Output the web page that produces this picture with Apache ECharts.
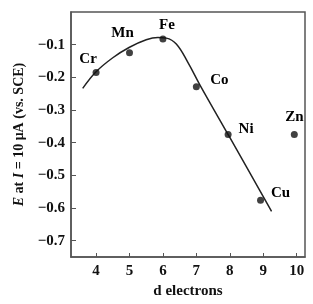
<!DOCTYPE html>
<html>
<head>
<meta charset="utf-8">
<script src="https://cdn.jsdelivr.net/npm/echarts@6/dist/echarts.min.js"></script>
<style>
  html, body { margin: 0; padding: 0; background: #fff; }
  #chart { width: 313px; height: 304px; }
</style>
</head>
<body>
<div id="chart"></div>
<script>
// measured points (d electrons vs potential)
const elements = ['Cr', 'Mn', 'Fe', 'Co', 'Ni', 'Cu', 'Zn'];
const dElectrons = [4, 5, 6, 7, 7.95, 8.92, 9.93];
const potentials = [-0.185, -0.125, -0.083, -0.229, -0.375, -0.576, -0.375];

// hand-drawn trend curve
const curveX = [3.6, 4.0, 4.5, 5.0, 5.5, 5.85, 6.1, 6.4, 6.75, 7.1, 8.0, 9.25];
const curveY = [-0.234, -0.183, -0.14, -0.108, -0.085, -0.078, -0.08, -0.098, -0.155, -0.222, -0.384, -0.61];

const xTicks = [4, 5, 6, 7, 8, 9, 10];
const yTicks = [-0.7, -0.6, -0.5, -0.4, -0.3, -0.2, -0.1];

// label offsets from each dot centre
const labelOffsets = {
  Cr: [-8, -13], Mn: [-7, -20], Fe: [4, -14], Co: [23, -7],
  Ni: [18, -5], Cu: [20, -7], Zn: [0, -17]
};

const font = '"Liberation Serif", "DejaVu Serif", serif';
const dotSize = 7;
const chart = echarts.init(document.getElementById('chart'));

const option = {
  backgroundColor: '#fff',
  animation: false,
  grid: {
    left: 71, top: 12, right: 8, bottom: 41,
    show: true,
    borderColor: '#555',
    borderWidth: 1.5
  },
  xAxis: {
    type: 'value',
    min: 3.25,
    max: 10.25,
    name: 'd electrons',
    nameLocation: 'middle',
    nameGap: 27,
    nameTextStyle: { fontFamily: font, fontWeight: 'bold', fontSize: 15, color: '#111' },
    axisLine: { onZero: false, lineStyle: { color: '#555', width: 1.5 } },
    axisTick: { inside: true, length: 4, customValues: xTicks, lineStyle: { color: '#555' } },
    axisLabel: {
      customValues: xTicks,
      margin: 7,
      fontFamily: font, fontWeight: 'bold', fontSize: 15, color: '#111'
    },
    splitLine: { show: false }
  },
  yAxis: {
    type: 'value',
    min: -0.75,
    max: 0,
    name: '{i|E} at {i|I} = 10 μA (vs. SCE)',
    nameLocation: 'middle',
    nameRotate: 90,
    nameGap: 44,
    nameTextStyle: {
      fontFamily: font, fontWeight: 'bold', fontSize: 14, color: '#111',
      rich: {
        i: { fontFamily: font, fontWeight: 'bold', fontStyle: 'italic', fontSize: 14, color: '#111' }
      }
    },
    axisLine: { show: true, onZero: false, lineStyle: { color: '#555', width: 1.5 } },
    axisTick: { show: true, inside: true, length: 5, customValues: yTicks, lineStyle: { color: '#555' } },
    axisLabel: {
      customValues: yTicks,
      margin: 6,
      fontFamily: font, fontWeight: 'bold', fontSize: 15, color: '#111',
      formatter: (v) => '\u2212' + Math.abs(v).toFixed(1)
    },
    splitLine: { show: false }
  },
  series: [
    {
      name: 'trend',
      type: 'line',
      smooth: 0.4,
      symbol: 'none',
      lineStyle: { color: '#222', width: 1.5 },
      data: curveX.map((x, i) => [x, curveY[i]]),
      z: 2
    },
    {
      name: 'metals',
      type: 'scatter',
      symbolSize: dotSize,
      itemStyle: { color: '#111' },
      label: {
        show: true,
        align: 'center',
        verticalAlign: 'middle',
        fontFamily: font, fontWeight: 'bold', fontSize: 15, color: '#000',
        textBorderColor: 'transparent',
        textBorderWidth: 0,
        opacity: 1,
        formatter: (p) => elements[p.dataIndex]
      },
      labelLayout: { hideOverlap: false },
      data: dElectrons.map((x, i) => {
        const off = labelOffsets[elements[i]];
        return {
          value: [x, potentials[i]],
          label: { position: [dotSize / 2 + off[0], dotSize / 2 + off[1]] }
        };
      }),
      z: 3
    }
  ]
};

chart.setOption(option);
</script>
</body>
</html>
